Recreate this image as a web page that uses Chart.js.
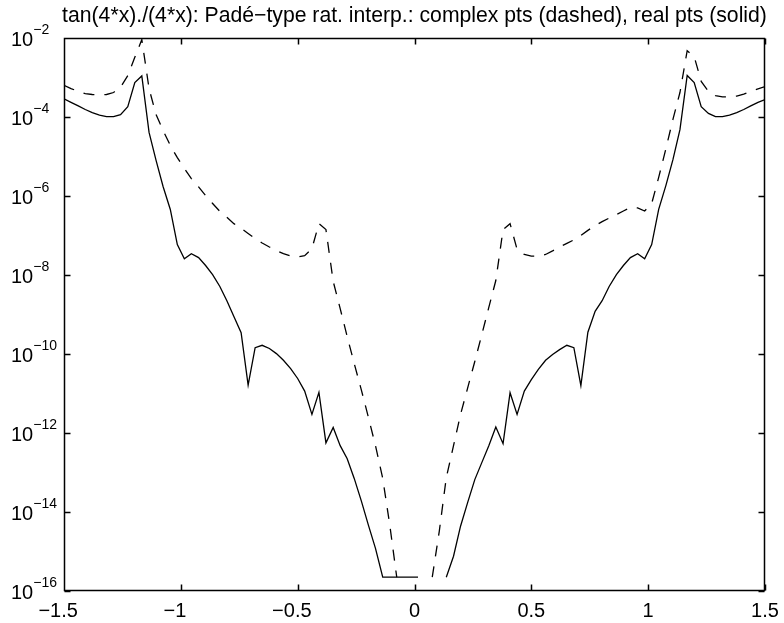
<!DOCTYPE html>
<html>
<head>
<meta charset="utf-8">
<script src="https://cdn.jsdelivr.net/npm/chart.js@4.4.0/dist/chart.umd.min.js"></script>
<style>
    html, body { margin: 0; padding: 0; background: #fff; }
    canvas { display: block; }
</style>
</head>
<body>
<canvas id="myChart" width="784" height="623"></canvas>
<script>
const titleText = "tan(4*x)./(4*x): Padé\u2212type rat. interp.: complex pts (dashed), real pts (solid)";

// sample points (100 points from -1.5 to 1.5)
const xGrid = [
    -1.500, -1.470, -1.439, -1.409, -1.379, -1.348, -1.318, -1.288, -1.258, -1.227,
    -1.197, -1.167, -1.136, -1.106, -1.076, -1.045, -1.015, -0.985, -0.955, -0.924,
    -0.894, -0.864, -0.833, -0.803, -0.773, -0.742, -0.712, -0.682, -0.652, -0.621,
    -0.591, -0.561, -0.530, -0.500, -0.470, -0.439, -0.409, -0.379, -0.348, -0.318,
    -0.288, -0.258, -0.227, -0.197, -0.167, -0.136, -0.106, -0.076, -0.045, -0.015,
     0.015,  0.045,  0.076,  0.106,  0.136,  0.167,  0.197,  0.227,  0.258,  0.288,
     0.318,  0.348,  0.379,  0.409,  0.439,  0.470,  0.500,  0.530,  0.561,  0.591,
     0.621,  0.652,  0.682,  0.712,  0.742,  0.773,  0.803,  0.833,  0.864,  0.894,
     0.924,  0.955,  0.985,  1.015,  1.045,  1.076,  1.106,  1.136,  1.167,  1.197,
     1.227,  1.258,  1.288,  1.318,  1.348,  1.379,  1.409,  1.439,  1.470,  1.500
];

// log10 of the error, real points (solid); null = exact zero, not plotted
const realLog = [
    -3.54, -3.63, -3.72, -3.81, -3.89, -3.95, -3.99, -3.99, -3.94, -3.74,
    -3.13, -2.96, -4.39, -5.10, -5.76, -6.34, -7.23, -7.59, -7.46, -7.56,
    -7.76, -7.99, -8.29, -8.65, -9.05, -9.46, -10.79, -9.84, -9.78, -9.86,
    -9.99, -10.16, -10.37, -10.62, -10.94, -11.53, -10.97, -12.25, -11.86, -12.32,
    -12.65, -13.15, -13.73, -14.34, -14.92, -15.65, -15.65, -15.65, -15.65, -15.65,
    -15.65, null, null, null, -15.65, -15.12, -14.36, -13.77, -13.18, -12.75,
    -12.32, -11.85, -12.27, -10.98, -11.53, -10.94, -10.65, -10.39, -10.16, -10.01,
    -9.89, -9.78, -9.84, -10.80, -9.45, -8.92, -8.65, -8.29, -7.99, -7.76,
    -7.56, -7.46, -7.59, -7.23, -6.34, -5.73, -5.08, -4.32, -2.95, -3.13,
    -3.74, -3.91, -3.99, -3.99, -3.95, -3.89, -3.81, -3.72, -3.63, -3.56
];

// log10 of the error, complex points (dashed)
const complexLog = [
    -3.20, -3.28, -3.35, -3.41, -3.43, -3.44, -3.43, -3.38, -3.25, -2.95,
    -2.49, -2.04, -3.28, -3.94, -4.34, -4.72, -5.03, -5.30, -5.56, -5.77,
    -5.99, -6.19, -6.39, -6.54, -6.70, -6.82, -6.95, -7.08, -7.19, -7.29,
    -7.38, -7.46, -7.52, -7.54, -7.51, -7.33, -6.70, -6.85, -8.16, -8.85,
    -9.56, -10.24, -10.92, -11.61, -12.32, -13.15, -14.32, -15.65, null, null,
    null, null, -15.65, -14.49, -13.13, -12.32, -11.53, -10.87, -10.19, -9.51,
    -8.82, -8.14, -6.85, -6.70, -7.35, -7.48, -7.52, -7.52, -7.48, -7.39,
    -7.29, -7.20, -7.11, -7.00, -6.87, -6.75, -6.65, -6.56, -6.47, -6.38,
    -6.29, -6.30, -6.38, -6.19, -5.53, -4.80, -4.06, -3.38, -2.32, -2.47,
    -3.10, -3.35, -3.46, -3.49, -3.49, -3.47, -3.42, -3.35, -3.29, -3.23
];

const xTicks = [-1.5, -1, -0.5, 0, 0.5, 1, 1.5];
const yTickPowers = [-16, -14, -12, -10, -8, -6, -4, -2];

const fontFamily = "'Liberation Sans', Arial, Helvetica, sans-serif";
const minus = "\u2212";
const titleWidth = 706; // width of the title line in the reference

function toPoints(logs) {
    return logs.map((v, i) => ({ x: xGrid[i], y: v === null ? null : Math.pow(10, v) }));
}

// MATLAB-like box, inward ticks, title and tick labels
const boxPlugin = {
    id: "box",
    afterDraw(chart) {
        const ctx = chart.ctx;
        const a = chart.chartArea;
        const xs = chart.scales.x;
        const ys = chart.scales.y;
        const L = Math.round(a.left) + 0.5, R = Math.round(a.right) - 0.5;
        const T = Math.round(a.top) + 0.5, B = Math.round(a.bottom) - 0.5;
        const tick = 6;
        ctx.save();
        ctx.strokeStyle = "#000";
        ctx.lineWidth = 1.5;
        ctx.beginPath();
        ctx.moveTo(L, T); ctx.lineTo(R, T); ctx.lineTo(R, B); ctx.lineTo(L, B); ctx.closePath();
        xTicks.forEach(v => {
            const px = Math.round(xs.getPixelForValue(v)) + 0.5;
            ctx.moveTo(px, B); ctx.lineTo(px, B - tick);
            ctx.moveTo(px, T); ctx.lineTo(px, T + tick);
        });
        yTickPowers.forEach(p => {
            const py = Math.round(ys.getPixelForValue(Math.pow(10, p))) + 0.5;
            ctx.moveTo(L, py); ctx.lineTo(L + tick, py);
            ctx.moveTo(R, py); ctx.lineTo(R - tick, py);
        });
        ctx.stroke();

        ctx.fillStyle = "#000";
        ctx.textBaseline = "alphabetic";

        // x labels: number centred on the tick, minus sign hangs to the left
        ctx.font = "20px " + fontFamily;
        xTicks.forEach(v => {
            const px = xs.getPixelForValue(v);
            const num = String(Math.abs(v));
            ctx.textAlign = "center";
            ctx.fillText(num, px, a.bottom + 26);
            if (v < 0) {
                ctx.textAlign = "right";
                ctx.fillText(minus, px - ctx.measureText(num).width / 2, a.bottom + 26);
            }
        });

        // y labels: 10 with superscript exponent
        yTickPowers.forEach(p => {
            const py = ys.getPixelForValue(Math.pow(10, p));
            ctx.font = "20px " + fontFamily;
            ctx.textAlign = "left";
            ctx.fillText("10", 11, py + 8);
            const w = ctx.measureText("10").width;
            ctx.font = "14px " + fontFamily;
            ctx.fillText(minus + Math.abs(p), 11 + w, py - 4.5);
        });

        // title: pick the size whose width is closest to the reference
        let best = 20, bestDiff = Infinity;
        for (let s = 19; s <= 23; s += 0.1) {
            ctx.font = s.toFixed(1) + "px " + fontFamily;
            const d = Math.abs(ctx.measureText(titleText).width - titleWidth);
            if (d < bestDiff) { bestDiff = d; best = s; }
        }
        ctx.font = best.toFixed(1) + "px " + fontFamily;
        ctx.textAlign = "center";
        ctx.fillText(titleText, (a.left + a.right) / 2, 22);
        ctx.restore();
    }
};

const ctx = document.getElementById("myChart");
new Chart(ctx, {
    type: "line",
    data: {
        datasets: [
            {
                label: "complex pts",
                data: toPoints(complexLog),
                borderColor: "#000",
                borderWidth: 1.3,
                borderDash: [11, 10],
                pointRadius: 0,
                tension: 0,
                spanGaps: false,
                clip: 0
            },
            {
                label: "real pts",
                data: toPoints(realLog),
                borderColor: "#000",
                borderWidth: 1.3,
                pointRadius: 0,
                tension: 0,
                spanGaps: false,
                clip: 0
            }
        ]
    },
    options: {
        responsive: false,
        animation: false,
        devicePixelRatio: 1,
        layout: { padding: { top: 38, right: 19, left: 0, bottom: 0 } },
        plugins: {
            legend: { display: false },
            tooltip: { enabled: false },
            title: { display: false }
        },
        scales: {
            x: {
                type: "linear",
                min: -1.5,
                max: 1.5,
                afterBuildTicks: s => { s.ticks = xTicks.map(v => ({ value: v })); },
                afterFit: s => { s.height = 32; },
                grid: { display: false, drawTicks: false },
                border: { display: false },
                ticks: { display: false }
            },
            y: {
                type: "logarithmic",
                min: 1e-16,
                max: 1e-2,
                afterBuildTicks: s => { s.ticks = yTickPowers.map(p => ({ value: Math.pow(10, p) })); },
                afterFit: s => { s.width = 64; },
                grid: { display: false },
                border: { display: false },
                ticks: { display: false }
            }
        }
    },
    plugins: [boxPlugin]
});
</script>
</body>
</html>
